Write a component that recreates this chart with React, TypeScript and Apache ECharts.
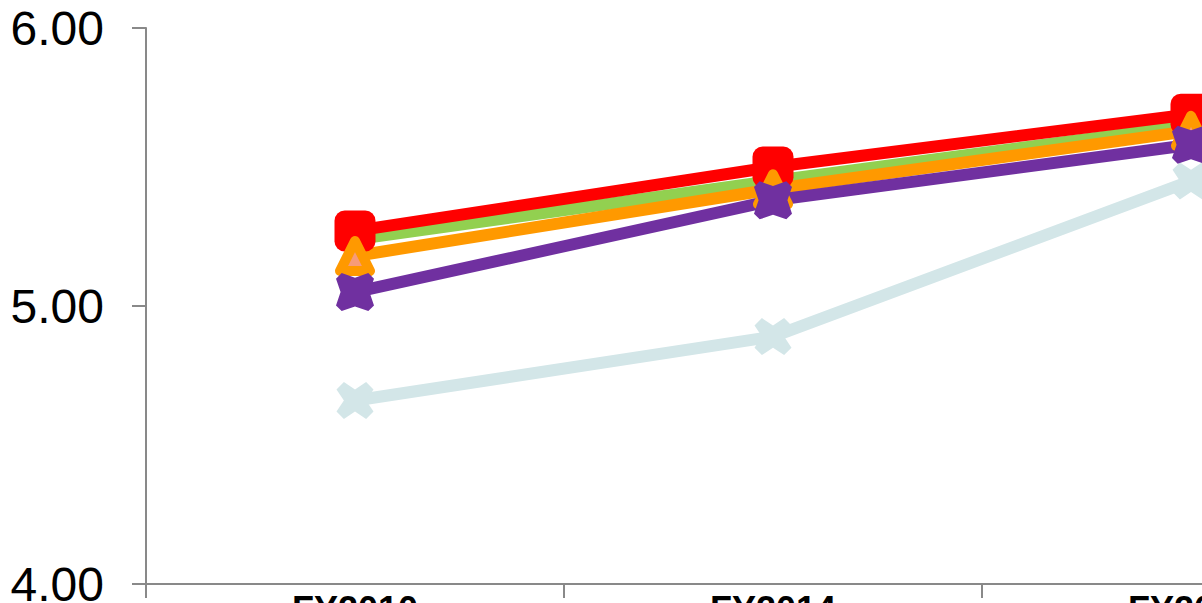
import React, { useEffect, useRef } from "react";
import * as echarts from "echarts";

const categories = ["FY2010", "FY2014", "FY2018"];
const yTicks = [4, 5, 6];
const seriesNames = ["Series E", "Series B", "Series A", "Series C", "Series D"];
const lightBlueValues = [4.66, 4.89, 5.45];
const greenValues = [5.24, 5.45, 5.65];
const redValues = [5.27, 5.5, 5.69];
const orangeValues = [5.18, 5.42, 5.63];
const purpleValues = [5.05, 5.38, 5.58];

const X_SHAPE = "path://M2,0 L5,2 L8,0 L10,2 L8,5 L10,8 L8,10 L5,8 L2,10 L0,8 L2,5 L0,2 Z";
const X_SHAPE_FAT =
  "path://M1.5,0 L5,1.2 L8.5,0 L10,1.5 L8.8,5 L10,8.5 L8.5,10 L5,8.8 L1.5,10 L0,8.5 L1.2,5 L0,1.5 Z";

export default function App() {
  const ref = useRef<HTMLDivElement>(null);
  useEffect(() => {
    if (!ref.current) return;
    const chart = echarts.init(ref.current, undefined, { renderer: "svg" });
    const axisColor = "#898989";
    const lw = 12;
    chart.setOption({
      animation: false,
      backgroundColor: "#ffffff",
      grid: {
        left: 146,
        top: 28,
        height: 556,
        width: 1254,
        containLabel: false,
        outerBoundsMode: "none",
      },
      xAxis: {
        type: "category",
        data: categories,
        boundaryGap: true,
        axisLine: { show: true, lineStyle: { color: axisColor, width: 2 } },
        axisTick: { show: true, length: 14, lineStyle: { color: axisColor, width: 2 } },
        axisLabel: {
          fontSize: 36,
          fontWeight: "bold",
          color: "#000",
          fontFamily: "Liberation Sans, Arial, sans-serif",
          margin: 7,
          hideOverlap: false,
        },
        splitLine: { show: false },
      },
      yAxis: {
        type: "value",
        min: yTicks[0],
        max: yTicks[yTicks.length - 1],
        interval: 1,
        axisLine: { show: true, lineStyle: { color: axisColor, width: 2 } },
        axisTick: { show: true, length: 14, lineStyle: { color: axisColor, width: 2 } },
        axisLabel: {
          fontSize: 48,
          color: "#000",
          fontFamily: "Liberation Sans, Arial, sans-serif",
          margin: 42,
          formatter: (v: number) => v.toFixed(2),
        },
        splitLine: { show: false },
      },
      series: [
        {
          name: seriesNames[0],
          type: "line",
          data: lightBlueValues,
          symbol: X_SHAPE,
          symbolSize: 37,
          itemStyle: { color: "#D3E6E8" },
          lineStyle: { color: "#D3E6E8", width: lw },
        },
        {
          name: seriesNames[1],
          type: "line",
          data: greenValues,
          symbol: "none",
          itemStyle: { color: "#92D050" },
          lineStyle: { color: "#92D050", width: lw },
        },
        {
          name: seriesNames[2],
          type: "line",
          data: redValues,
          symbol: "roundRect",
          symbolSize: 41,
          itemStyle: { color: "#FF0000" },
          lineStyle: { color: "#FF0000", width: lw },
        },
        {
          name: seriesNames[3],
          type: "line",
          data: orangeValues,
          symbol: "triangle",
          symbolSize: 30,
          itemStyle: {
            color: "#F79B78",
            borderColor: "#FF9900",
            borderWidth: 10,
            borderJoin: "round",
          },
          lineStyle: { color: "#FF9900", width: lw },
        },
        {
          name: seriesNames[4],
          type: "line",
          data: purpleValues,
          symbol: X_SHAPE_FAT,
          symbolSize: 38,
          itemStyle: { color: "#7030A0" },
          lineStyle: { color: "#7030A0", width: lw },
        },
      ],
    });
    return () => chart.dispose();
  }, []);
  return (
    <div
      ref={ref}
      style={{ position: "absolute", left: 0, top: 0, width: 1202, height: 603 }}
    />
  );
}
